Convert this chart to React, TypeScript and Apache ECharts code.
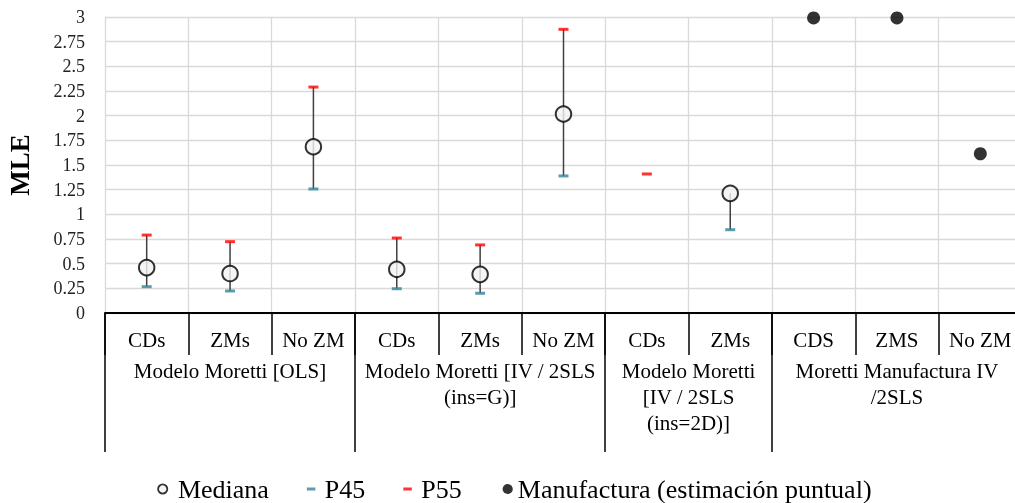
import React, { useEffect, useRef } from "react";
import * as echarts from "echarts";

const categories = ["CDs", "ZMs", "No ZM", "CDs", "ZMs", "No ZM", "CDs", "ZMs", "CDS", "ZMS", "No ZM"];
const groupLabels = [
  "Modelo Moretti [OLS]",
  "Modelo Moretti [IV / 2SLS\n(ins=G)]",
  "Modelo Moretti\n[IV / 2SLS\n(ins=2D)]",
  "Moretti Manufactura IV\n/2SLS",
];
const groupSizes = [3, 3, 2, 3];

const mediana = [0.46, 0.4, 1.685, 0.443, 0.392, 2.017, null, 1.213, null, null, null];
const p45 = [0.267, 0.223, 1.257, 0.246, 0.2, 1.389, null, 0.844, null, null, null];
const p55 = [0.79, 0.723, 2.29, 0.76, 0.69, 2.875, 1.409, null, null, null, null];
const manufactura = [null, null, null, null, null, null, null, null, 2.99, 2.99, 1.614];

const FONT = "Liberation Serif";

const pts = (arr: (number | null)[]) =>
  arr.map((v, i) => (v == null ? null : [i, v])).filter((d) => d != null);

// Half-slot axis (2 points per category) to place group labels and long ticks
const halfData: string[] = new Array(categories.length * 2 + 1).fill("");
const groupTicks: number[] = [0];
{
  let start = 0;
  groupSizes.forEach((s, g) => {
    halfData[start + s] = groupLabels[g];
    start += s * 2;
    groupTicks.push(start);
  });
}

const rangeData = categories
  .map((_, i) => {
    const vals = [mediana[i], p45[i], p55[i]].filter((v) => v != null) as number[];
    if (vals.length < 2) return null;
    return [i, Math.min(...vals), Math.max(...vals)];
  })
  .filter((d) => d != null);

const pad = "M0,0L0,0M16,12L16,12";
const iconMediana = `path://${pad}M1.2,6A4.6,4.6 0 1 1 10.4,6A4.6,4.6 0 1 1 1.2,6Z`;
const iconDash = `path://${pad}M3,4.5L11.5,4.5L11.5,7.5L3,7.5Z`;
const iconDot = `path://${pad}M5.8,6A5.1,5.1 0 1 1 16,6A5.1,5.1 0 1 1 5.8,6Z`;

export default function App() {
  const ref = useRef<HTMLDivElement>(null);
  useEffect(() => {
    if (!ref.current) return;
    const chart = echarts.init(ref.current, null, { renderer: "svg" });
    chart.setOption({
      animation: false,
      textStyle: { fontFamily: FONT },
      grid: {
        left: 105,
        top: 17,
        right: 8,
        height: 296,
        containLabel: false,
        outerBoundsMode: "none",
      },
      legend: {
        left: 156,
        top: 476,
        padding: 0,
        itemWidth: 16,
        itemHeight: 12,
        itemGap: 35,
        textStyle: { fontFamily: FONT, fontSize: 26, color: "#000" },
        data: [
          {
            name: "Mediana",
            icon: iconMediana,
            itemStyle: { color: "#f2f2f2", borderColor: "#000", borderWidth: 1.8 },
          },
          { name: "P45", icon: iconDash },
          { name: "P55", icon: iconDash },
          { name: "Manufactura (estimación puntual)", icon: iconDot },
        ],
      },
      xAxis: [
        {
          type: "category",
          data: categories,
          boundaryGap: true,
          axisLine: { show: true, lineStyle: { color: "#000", width: 2 } },
          axisTick: { show: true, length: 42, lineStyle: { color: "#000", width: 1.5 } },
          axisLabel: {
            interval: 0,
            margin: 27,
            verticalAlign: "middle",
            fontFamily: FONT,
            fontSize: 21,
            color: "#000",
          },
          splitLine: { show: true, lineStyle: { color: "#d9d9d9", width: 1.3 } },
        },
        {
          type: "category",
          data: halfData,
          boundaryGap: false,
          position: "bottom",
          axisLine: { show: false },
          axisTick: {
            show: true,
            length: 139,
            interval: (idx: number) => groupTicks.includes(idx),
            lineStyle: { color: "#000", width: 1.5 },
          },
          axisLabel: {
            interval: 0,
            margin: 45,
            verticalAlign: "top",
            lineHeight: 26,
            fontFamily: FONT,
            fontSize: 21,
            color: "#000",
          },
          splitLine: { show: false },
        },
      ],
      yAxis: {
        type: "value",
        min: 0,
        max: 3,
        interval: 0.25,
        name: "MLE",
        nameLocation: "middle",
        nameGap: 72,
        nameTextStyle: { fontFamily: FONT, fontSize: 27, fontWeight: "bold", color: "#000" },
        axisLine: { show: false },
        axisTick: { show: false },
        axisLabel: { margin: 20, fontFamily: FONT, fontSize: 18, color: "#222" },
        splitLine: { show: true, lineStyle: { color: "#d9d9d9", width: 1.3 } },
      },
      series: [
        {
          type: "custom",
          name: "range",
          z: 1,
          data: rangeData,
          renderItem: (params: any, api: any) => {
            const x = api.value(0);
            const lo = api.coord([x, api.value(1)]);
            const hi = api.coord([x, api.value(2)]);
            return {
              type: "line",
              shape: { x1: lo[0], y1: lo[1], x2: hi[0], y2: hi[1] },
              style: { stroke: "#404040", lineWidth: 1.5 },
            };
          },
        },
        {
          type: "scatter",
          name: "P45",
          z: 2,
          symbol: "rect",
          symbolSize: [10, 3],
          itemStyle: { color: "#31849b" },
          data: pts(p45),
        },
        {
          type: "scatter",
          name: "P55",
          z: 2,
          symbol: "rect",
          symbolSize: [10, 3],
          itemStyle: { color: "#ff0000" },
          data: pts(p55),
        },
        {
          type: "scatter",
          name: "Mediana",
          z: 3,
          symbol: "circle",
          symbolSize: 15.5,
          itemStyle: { color: "#f2f2f2", borderColor: "#000", borderWidth: 2 },
          data: pts(mediana),
        },
        {
          type: "scatter",
          name: "Manufactura (estimación puntual)",
          z: 3,
          symbol: "circle",
          symbolSize: 13,
          itemStyle: { color: "#000" },
          data: pts(manufactura),
        },
      ],
    });
    return () => chart.dispose();
  }, []);
  return (
    <div style={{ position: "fixed", left: 0, top: 0, width: 1015, height: 503, overflow: "hidden" }}>
      <div ref={ref} style={{ position: "absolute", left: 0, top: 0, width: 1030, height: 503 }} />
    </div>
  );
}
